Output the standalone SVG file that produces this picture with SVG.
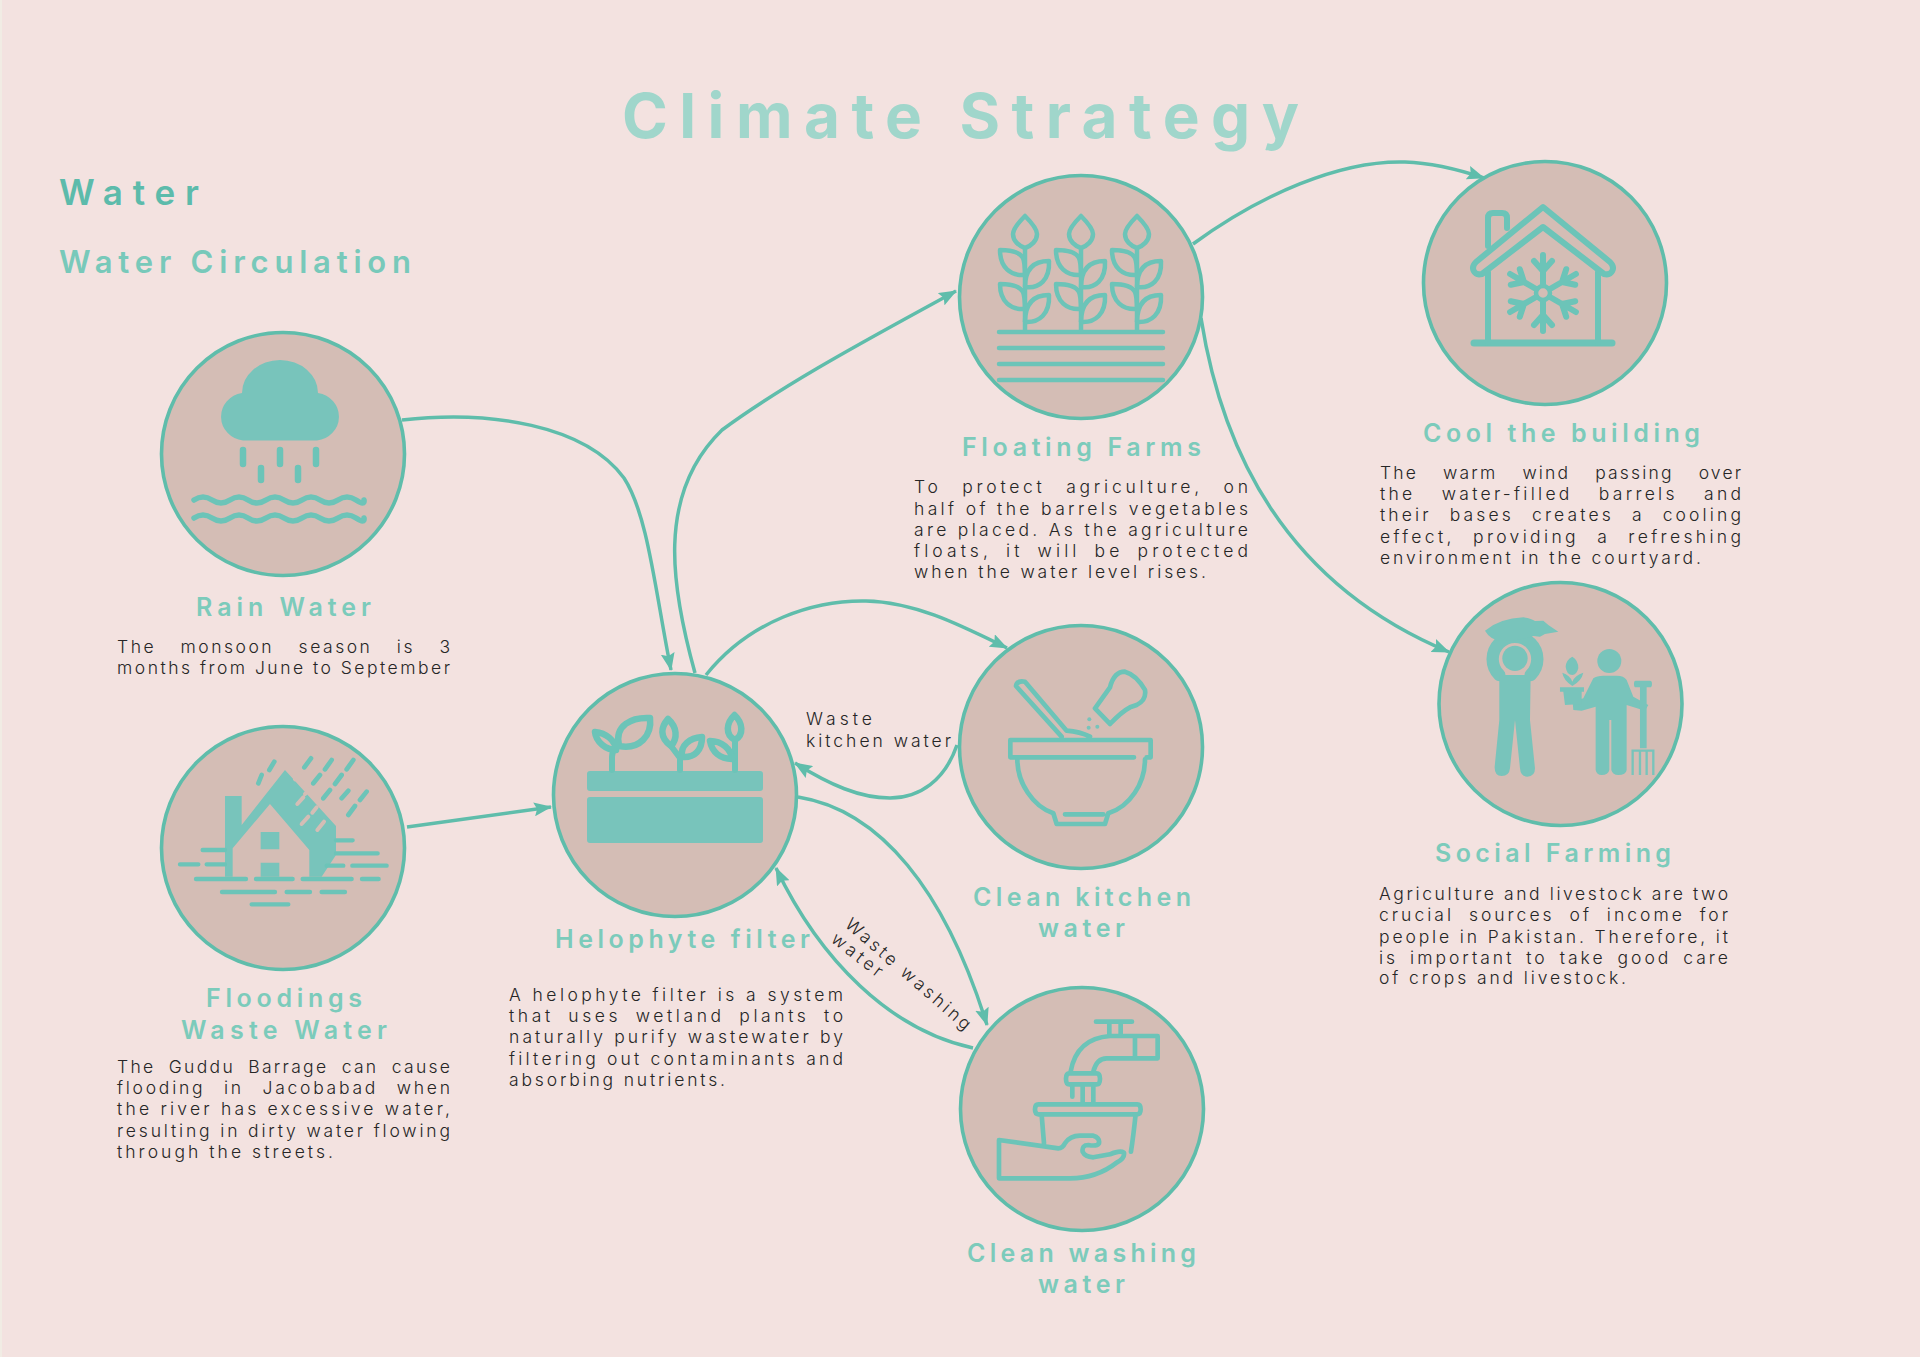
<svg xmlns="http://www.w3.org/2000/svg" width="1920" height="1357" viewBox="0 0 1920 1357">
<defs>
<marker id="arrow" viewBox="0 0 18 14" refX="17" refY="7" markerWidth="18" markerHeight="14" markerUnits="userSpaceOnUse" orient="auto"><path d="M0,0 L18,7 L0,14 L3,7 Z" fill="#5fbdab"/></marker>
<g id="sprig" fill="none" stroke="#6cc4b8" stroke-width="4.5" stroke-linejoin="round">
<path d="M0,216 C-8,224 -12,230 -12,234 C-12,241 -6,246 0,248 C6,246 12,241 12,234 C12,230 8,224 0,216Z"/>
<path d="M0,248V332"/>
<path d="M0,275 C-14,276 -25,268 -25,250 C-14,250 -5,252 -2,258 C0,263 0,268 0,275"/>
<path d="M0,287 C14,289 25,280 24,261 C10,261 0,268 0,287"/>
<path d="M0,309 C-14,310 -25,302 -25,284 C-14,284 -5,286 -2,292 C0,297 0,302 0,309"/>
<path d="M0,322 C14,323 25,314 24,295 C10,295 0,302 0,322"/>
</g>
<g id="arm" fill="none" stroke="#6cc4b8" stroke-width="6" stroke-linecap="round" stroke-linejoin="round"><path d="M0,-8V-38M-9,-32L0,-22L9,-32"/></g>
</defs>
<style>
text{font-family:"Inter","Liberation Sans",sans-serif}
.t{font-size:62px;font-weight:700;fill:#a0d6cb}
.h1{font-size:35px;font-weight:600;fill:#5cbbab}
.h2{font-size:31px;font-weight:600;fill:#78c9ba}
.lab{font-size:25px;font-weight:600;fill:#7ccbbb}
.b{font-size:17.5px;font-weight:300;fill:#262626}
.c{fill:#d4bdb5;stroke:#5fbdab;stroke-width:3.6}
.fi{fill:#78c4bb}
.ln{fill:none;stroke:#6cc4b8;stroke-linecap:round;stroke-linejoin:round}
.con{fill:none;stroke:#5fbdab;stroke-width:3.5;marker-end:url(#arrow)}
</style>
<rect width="1920" height="1357" fill="#f3e2e0"/>
<rect width="2" height="1357" fill="#f1ece4"/>
<text class="t" x="622" y="138" textLength="677">Climate Strategy</text>
<text class="h1" x="59" y="205" textLength="140">Water</text>
<text class="h2" x="59" y="273" textLength="352">Water Circulation</text>

<g id="connectors">
<path class="con" d="M402,420 C490,410 585,425 624,478 C648,515 655,590 671,670"/>
<path class="con" d="M407,827 L551,807"/>
<path class="con" d="M695,673 C672,590 655,495 722,430 C790,380 880,333 956,291"/>
<path class="con" d="M706,675 C750,620 815,600 866,601 C915,602 960,625 1007,648"/>
<path class="con" d="M957,745 C945,780 920,798 890,798 C860,798 830,785 795,763"/>
<path class="con" d="M798,797 C880,810 945,890 987,1025"/>
<path class="con" d="M973,1048 C890,1030 820,960 776,868"/>
<path class="con" d="M1193,244 C1260,195 1340,160 1405,162 C1435,163 1460,170 1484,178"/>
<path class="con" d="M1201,318 C1225,470 1300,590 1449,652"/>
</g>
<text class="b" x="806" y="725" textLength="66">Waste</text>
<text class="b" x="806" y="747" textLength="145">kitchen water</text>
<text class="b" transform="translate(844,926) rotate(41)" textLength="160">Waste washing</text>
<text class="b" transform="translate(830,941) rotate(38)" textLength="60">water</text>

<g id="rain">
<circle class="c" cx="283" cy="454" r="121.5"/>
<path class="fi" d="M243,440.5H317A25,24 0 0 0 318,393A38,33 0 0 0 242,393A25,24 0 0 0 243,440.5Z"/>
<path class="ln" stroke-width="6.5" d="M243,450V464M280,450V464M316,450V464M261,468V480M298,468V480"/>
<path class="ln" stroke-width="5.5" d="M194,500q9,-6 18,0q9,6 18,0q9,-6 18,0q9,6 18,0q9,-6 18,0q9,6 18,0q9,-6 18,0q9,6 18,0q9,-6 18,0q9,6 8,0"/>
<path class="ln" stroke-width="5.5" d="M194,518q9,-6 18,0q9,6 18,0q9,-6 18,0q9,6 18,0q9,-6 18,0q9,6 18,0q9,-6 18,0q9,6 18,0q9,-6 18,0q9,6 8,0"/>
<text class="lab" x="196" y="616" textLength="175">Rain Water</text>
<text class="b" x="117" y="653" textLength="333" word-spacing="17">The monsoon season is 3</text>
<text class="b" x="117" y="674" textLength="333">months from June to September</text>
</g>

<g id="flood">
<circle class="c" cx="283" cy="848" r="121.5"/>
<g transform="translate(150,720) scale(.3333)">
<path class="fi" d="M225,228H275V315L405,150L558,318V405L515,470H478V390L360,252L248,385V470H225Z"/>
<path class="fi" d="M332,336H388V388H332ZM332,428H388V470H332Z"/>
<path class="ln" stroke-width="14" d="M373,125L358,150M335,165L325,190M483,115L463,142M545,120L525,148M610,120L590,148M510,165L490,190M575,165L555,192M595,212L575,235M650,215L630,240M540,210L520,235M615,258L595,285"/>
<path class="ln" style="stroke:#d4bdb5" stroke-width="12" d="M460,232L442,252M475,290L455,312M522,305L502,330M500,262L487,278M480,208L465,222M450,160L435,178"/>
<path class="ln" stroke-width="13" d="M158,390H225M90,433H145M170,433H225M138,477H288M318,477H428M458,477H605M636,477H686M216,516H375M410,516H480M515,516H585M305,553H415M558,361H608M558,400H683M530,437H580M607,437H710"/>
</g>
<text class="lab" x="206" y="1007" textLength="156">Floodings</text>
<text class="lab" x="181" y="1039" textLength="206">Waste Water</text>
<text class="b" x="117" y="1073" textLength="333" word-spacing="6">The Guddu Barrage can cause</text>
<text class="b" x="117" y="1094" textLength="333" word-spacing="11">flooding in Jacobabad when</text>
<text class="b" x="117" y="1115" textLength="333">the river has excessive water,</text>
<text class="b" x="117" y="1137" textLength="333">resulting in dirty water flowing</text>
<text class="b" x="117" y="1158" textLength="216">through the streets.</text>
</g>

<g id="helophyte">
<circle class="c" cx="675" cy="795" r="121.5"/>
<path class="fi" d="M590,771H760a3,3 0 0 1 3,3V788a3,3 0 0 1 -3,3H590a3,3 0 0 1 -3,-3V774a3,3 0 0 1 3,-3ZM590,797H760a3,3 0 0 1 3,3V840a3,3 0 0 1 -3,3H590a3,3 0 0 1 -3,-3V800a3,3 0 0 1 3,-3Z"/>
<path class="ln" stroke-width="6" d="M612,770V757Q612,750 618,746M680,770V758L671,746M735,770V740"/>
<path class="ln" stroke-width="6.5" d="M619,746C614,725 632,717 650,718C652,735 640,750 619,746ZM616,750C606,750 596,742 595,732C606,733 615,740 616,750ZM668,719C661,727 659,737 671,746C678,738 677,727 668,719ZM682,757C680,745 690,738 702,737C702,750 695,758 682,757ZM734.5,715C726,723 725,735 735,740C744,735 743,723 734.5,715ZM710,741C722,741 731,749 732,759C720,759 712,752 710,741Z"/>
<text class="lab" x="555" y="948" textLength="255">Helophyte filter</text>
<text class="b" x="509" y="1001" textLength="334">A helophyte filter is a system</text>
<text class="b" x="509" y="1022" textLength="334" word-spacing="6">that uses wetland plants to</text>
<text class="b" x="509" y="1043" textLength="334">naturally purify wastewater by</text>
<text class="b" x="509" y="1065" textLength="334">filtering out contaminants and</text>
<text class="b" x="509" y="1086" textLength="216">absorbing nutrients.</text>
</g>

<g id="floating">
<circle class="c" cx="1081" cy="297" r="121.5"/>
<use href="#sprig" x="1025"/><use href="#sprig" x="1081"/><use href="#sprig" x="1137"/>
<path class="ln" stroke-width="4.5" d="M999,332H1163M999,348H1163M999,364H1163M999,380H1163"/>
<text class="lab" x="962" y="456" textLength="239">Floating Farms</text>
<text class="b" x="914" y="493" textLength="334" word-spacing="12">To protect agriculture, on</text>
<text class="b" x="914" y="515" textLength="334">half of the barrels vegetables</text>
<text class="b" x="914" y="536" textLength="334">are placed. As the agriculture</text>
<text class="b" x="914" y="557" textLength="334" word-spacing="5">floats, it will be protected</text>
<text class="b" x="914" y="578" textLength="292">when the water level rises.</text>
</g>

<g id="cool">
<circle class="c" cx="1545" cy="283" r="121.5"/>
<path class="ln" stroke-width="7" d="M1474,343H1612"/>
<path class="ln" stroke-width="6" d="M1488,343V272M1598,343V272M1543,207L1610,262C1616,268 1612,276 1604,274L1543,227L1482,274C1474,276 1470,268 1476,262ZM1488,246V218Q1488,213 1493,213H1502Q1507,213 1507,218V228"/>
<g transform="translate(1543,293)">
<circle r="7" fill="none" stroke="#6cc4b8" stroke-width="4.5"/>
<use href="#arm"/><use href="#arm" transform="rotate(60)"/><use href="#arm" transform="rotate(120)"/><use href="#arm" transform="rotate(180)"/><use href="#arm" transform="rotate(240)"/><use href="#arm" transform="rotate(300)"/>
</g>
<text class="lab" x="1423" y="442" textLength="277">Cool the building</text>
<text class="b" x="1380" y="479" textLength="361" word-spacing="18">The warm wind passing over</text>
<text class="b" x="1380" y="500" textLength="361" word-spacing="18">the water-filled barrels and</text>
<text class="b" x="1380" y="521" textLength="361" word-spacing="10">their bases creates a cooling</text>
<text class="b" x="1380" y="543" textLength="361" word-spacing="10">effect, providing a refreshing</text>
<text class="b" x="1380" y="564" textLength="321">environment in the courtyard.</text>
</g>

<g id="social">
<circle class="c" cx="1560.5" cy="704" r="121.5"/>
<g transform="translate(1400,560) scale(.3333)">
<circle class="fi" cx="345" cy="295" r="38"/>
<path fill="none" stroke="#78c4bb" stroke-width="37" stroke-linecap="round" d="M298,345A67,67 0 1 1 392,345"/>
<path class="fi" d="M298,345H392L390,480L405,625Q405,650 382,650Q362,650 360,625L345,480L330,625Q328,648 305,648Q283,648 284,620L298,480Z"/>
<path class="fi" d="M255,212Q300,175 370,172Q395,175 405,183L430,182L445,195L475,215L435,222L420,230L400,228Q350,245 300,242Q270,238 255,212Z"/>
<circle class="fi" cx="628" cy="303" r="36"/>
<path class="fi" d="M580,355Q590,347 610,347H650Q672,347 680,360L700,410L745,435L735,452L680,435V630Q678,645 655,645Q638,645 634,630V480H628V630Q625,645 605,645Q590,645 587,630V440L545,452L520,450L518,425L550,415Z"/>
<path class="fi" d="M480,382H552V395H545L545,432L495,435L490,395H480Z"/>
<path class="fi" d="M517,290Q535,300 535,325Q530,345 517,345Q500,345 497,320Q498,300 517,290ZM517,378Q490,360 487,338Q510,345 517,365Q525,345 550,338Q545,362 517,378Z"/>
<path class="fi" d="M707,362H750Q756,362 756,372Q756,382 750,382H740V565H720V382H707Q702,382 702,372Q702,362 707,362Z"/>
<path fill="none" stroke="#78c4bb" stroke-width="7" d="M698,645V572H760V645M720,572V645M740,572V645"/>
</g>
<text class="lab" x="1435" y="862" textLength="236">Social Farming</text>
<text class="b" x="1379" y="900" textLength="349">Agriculture and livestock are two</text>
<text class="b" x="1379" y="921" textLength="349" word-spacing="7">crucial sources of income for</text>
<text class="b" x="1379" y="943" textLength="349">people in Pakistan. Therefore, it</text>
<text class="b" x="1379" y="964" textLength="349" word-spacing="4">is important to take good care</text>
<text class="b" x="1379" y="984" textLength="247">of crops and livestock.</text>
</g>

<g id="kitchen">
<circle class="c" cx="1081" cy="747" r="121.5"/>
<g transform="translate(930,600) scale(.3333)">
<path class="ln" stroke-width="14" d="M612,472H241V420H662V472H650M262,478C262,550 310,620 370,640L380,672H525L535,640C600,620 645,550 645,478M405,643H520M395,410L258,258Q262,240 285,245L410,392Q450,395 480,410M495,325L540,262Q552,215 585,215Q620,225 645,270Q650,300 620,315L600,322Q575,335 540,372ZM495,325L540,372"/>
<circle class="fi" cx="478" cy="358" r="6"/><circle class="fi" cx="476" cy="383" r="6"/><circle class="fi" cx="502" cy="380" r="6"/>
</g>
<text class="lab" x="973" y="906" textLength="218">Clean kitchen</text>
<text class="lab" x="1038" y="937" textLength="87">water</text>
</g>

<g id="washing">
<circle class="c" cx="1082" cy="1109" r="121.5"/>
<g transform="translate(930,970) scale(.3333)">
<path class="ln" stroke-width="14" d="M498,155H606M538,160V197M572,160V197M683,198H540Q440,205 422,305M683,265H530Q500,265 490,305M615,198V265M683,198V265M418,310H500Q510,310 510,326Q510,343 500,343H418Q408,343 408,326Q408,310 418,310ZM427,345V380M458,345V400M490,345V400M325,403H622Q632,403 632,418Q632,433 622,433H325Q315,433 315,418Q315,403 325,403ZM335,435L342,520M617,433Q610,500 603,545M207,510L385,535Q398,535 405,520Q420,497 450,497L490,497Q510,503 507,520Q500,530 475,525Q455,525 458,545Q465,560 490,562L540,553Q570,540 582,548Q585,565 560,578Q500,625 420,625H207Z"/>
</g>
<text class="lab" x="967" y="1262" textLength="229">Clean washing</text>
<text class="lab" x="1038" y="1293" textLength="87">water</text>
</g>
</svg>
